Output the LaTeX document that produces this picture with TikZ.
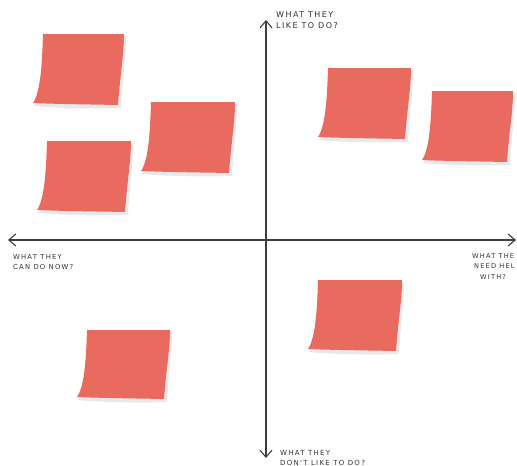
\documentclass[tikz,border=0pt]{standalone}
\usepackage{fontspec}
\newfontfamily\hand[LetterSpace=18]{DejaVu Sans}
\usetikzlibrary{arrows.meta}
\definecolor{notered}{HTML}{E96A5E}
\definecolor{noteshadow}{HTML}{E6E8E9}
\definecolor{axisgray}{HTML}{3E3E3E}
\definecolor{inkgray}{HTML}{333333}
\tikzset{
  axisline/.style={draw=axisgray, line width=1.1pt, {Straight Barb[length=7pt,width=12pt]}-{Straight Barb[length=7pt,width=12pt]}},
  label/.style={font=\hand, text=inkgray, inner sep=0pt, anchor=north west, align=left},
}
% sticky note: #1,#2 top-left corner; #3 top width; #4 height
\newcommand{\stickynote}[4]{%
  \begin{scope}[shift={(#1,#2)}]
    \fill[noteshadow] (1,2) .. controls (0,{0.5*#4+2}) and (-2,{0.85*#4+3}) .. (-9,{#4+3})
      .. controls (10,{#4+5}) and ({#3-30},{#4+6}) .. ({#3-3},{#4+5})
      .. controls ({#3-1},{0.6*#4}) and ({#3+2},{0.3*#4}) .. ({#3+2},2) -- cycle;
    \fill[notered] (0,0) .. controls (-1,{0.5*#4}) and (-3,{0.85*#4}) .. (-10,#4)
      .. controls (10,{#4+1}) and ({#3-30},{#4+1.5}) .. ({#3-6},{#4+2})
      .. controls ({#3-4},{0.6*#4}) and (#3,{0.3*#4}) .. (#3,0) -- cycle;
  \end{scope}}
\begin{document}
\begin{tikzpicture}[x=1pt,y=-1pt]
  \useasboundingbox (0,0) rectangle (517,466);
  \clip (0,0) rectangle (517,466);
  % notes
  \stickynote{43}{34}{81}{69}
  \stickynote{151}{102}{84}{69}
  \stickynote{47}{141}{84}{69}
  \stickynote{328}{68}{83}{69}
  \stickynote{432}{91}{81}{69}
  \stickynote{318}{280}{84}{69}
  \stickynote{87}{330}{83}{67}
  % axes
  \coordinate (top) at (266,20);
  \coordinate (bottom) at (266,458);
  \coordinate (left) at (8,240);
  \coordinate (right) at (516,240);
  \draw[axisline] (bottom) -- (top);
  \draw[axisline] (left) -- (right);
  % labels
  \node[label, font=\hand\fontsize{8}{11.5}\selectfont] (ltop) at (276,11) {WHAT THEY\\LIKE TO DO?};
  \node[label, font=\hand\fontsize{6.8}{10}\selectfont] (lleft) at (13,254) {WHAT THEY\\CAN DO NOW?};
  \node[label, font=\hand\fontsize{6.6}{10.5}\selectfont] (lright) at (472,253) {WHAT THE\\\hspace{2pt}NEED HEL\\\hspace{8pt}WITH?};
  \node[label, font=\hand\fontsize{7}{10}\selectfont] (lbottom) at (280,450) {WHAT THEY\\DON'T LIKE TO DO?};
\end{tikzpicture}
\end{document}
